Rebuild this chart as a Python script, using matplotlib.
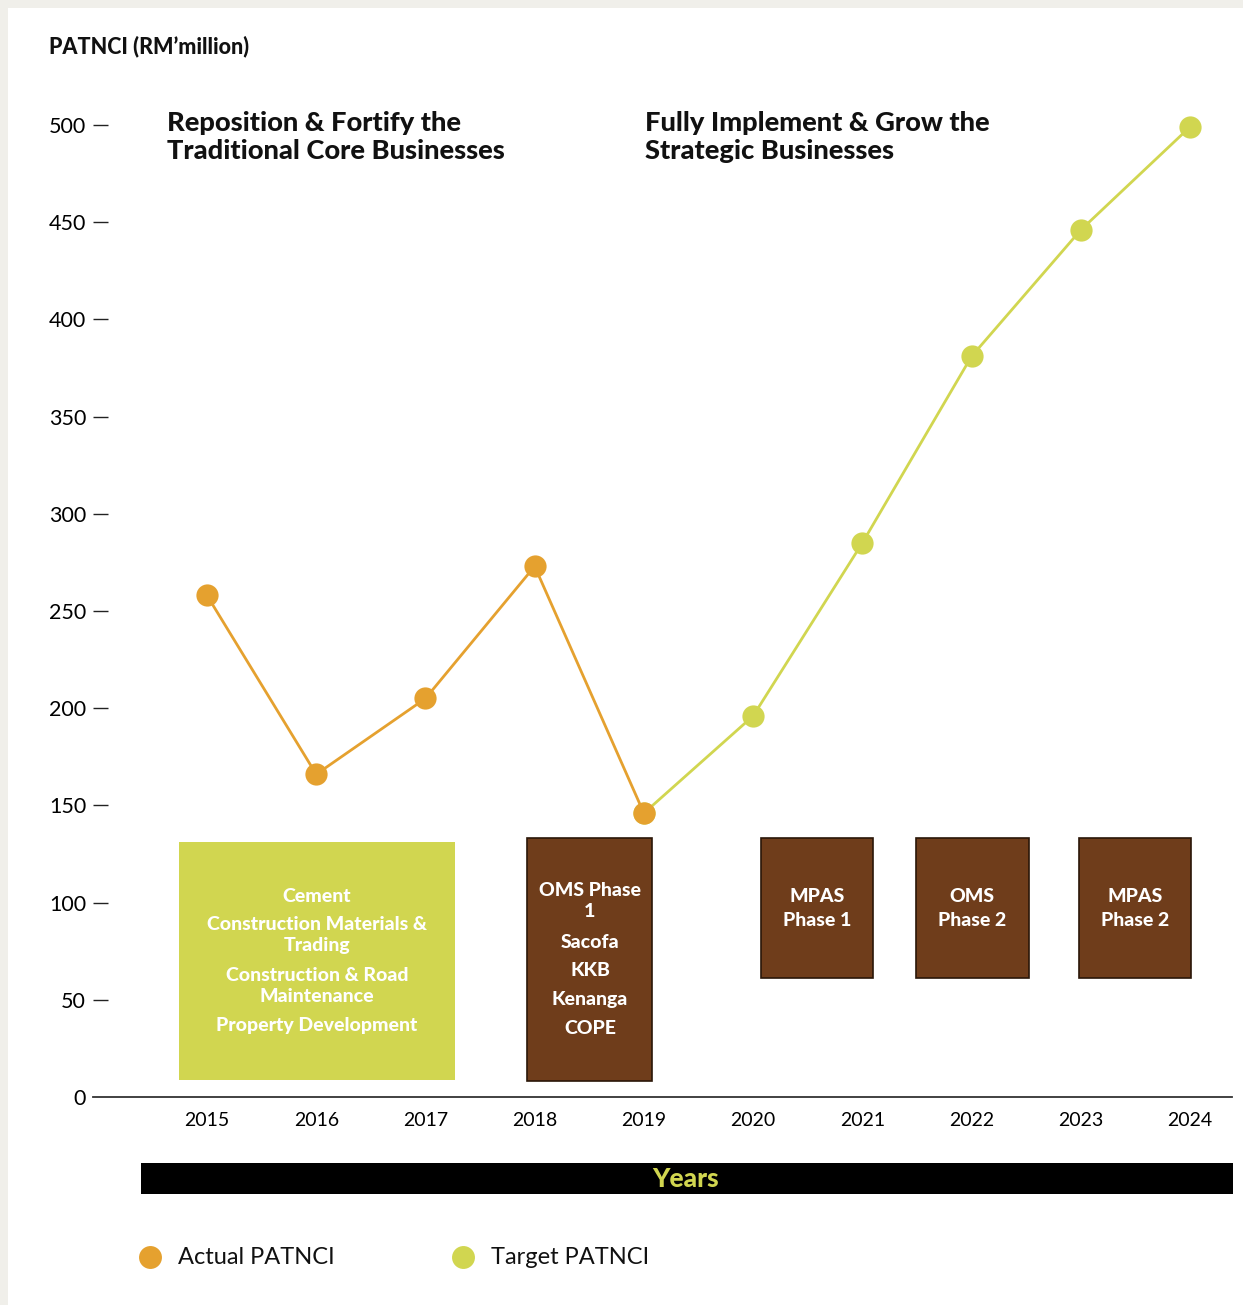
import matplotlib.pyplot as plt
from matplotlib.patches import Rectangle

W, H = 1243, 1305
plt.rcParams['font.family'] = ['Lato', 'DejaVu Sans']

# data
actual_years = [2015, 2016, 2017, 2018, 2019]
actual_vals = [258, 166, 205, 273, 146]
target_years = [2019, 2020, 2021, 2022, 2023, 2024]
target_vals = [146, 196, 285, 381, 446, 499]
y_ticks = [0, 50, 100, 150, 200, 250, 300, 350, 400, 450, 500]
x_years = list(range(2015, 2025))

ORANGE = '#e5a12f'
GREEN = '#d1d650'
BROWN = '#6f3d1b'


def fx(x):
    return x / W


def fy(y):
    return 1 - y / H


fig = plt.figure(figsize=(W / 100, H / 100), dpi=100)
fig.patch.set_facecolor('#f0efea')
fig.patches.append(Rectangle((fx(8), 0), 1 - fx(8), fy(8), transform=fig.transFigure,
                             facecolor='white', edgecolor='none', zorder=-10))

# axes: left edge 93px, right 1232px, y=0 at 1097px, 500 at 125px
ppu = (1097 - 125) / 500
ytop = 530
ax = fig.add_axes([fx(93), fy(1097), fx(1232) - fx(93), ytop * ppu / H])
ax.set_zorder(1)
ax.set_facecolor('none')
ax.set_ylim(0, ytop)
ppy = (1190 - 207) / 9
ax.set_xlim(2015 - (207 - 93) / ppy, 2015 + (1232 - 207) / ppy)

for s in ['top', 'right', 'left']:
    ax.spines[s].set_visible(False)
ax.spines['bottom'].set_linewidth(1.3)
ax.spines['bottom'].set_color('#333333')

ax.set_yticks(y_ticks)
ax.set_yticklabels([str(v) for v in y_ticks], fontsize=15.5)
ax.tick_params(axis='y', direction='in', length=11, width=1, pad=5, color='#222222')
ax.set_xticks(x_years)
ax.set_xticklabels([str(v) for v in x_years], fontsize=14)
ax.tick_params(axis='x', length=0, pad=11)
# the 0 tick has a label only
ax.yaxis.get_major_ticks()[0].tick1line.set_visible(False)

# boxes (data x range, data y range)
green_box = (2014.74, 2017.27, 9, 131)
brown_boxes = [
    (2017.93, 2019.07, 8, 133),
    (2020.07, 2021.10, 61, 133),
    (2021.49, 2022.53, 61, 133),
    (2022.98, 2024.01, 61, 133),
]
gx0, gx1, gy0, gy1 = green_box
ax.add_patch(Rectangle((gx0, gy0), gx1 - gx0, gy1 - gy0, facecolor=GREEN,
                       edgecolor='none', zorder=1))
for bx0, bx1, by0, by1 in brown_boxes:
    ax.add_patch(Rectangle((bx0, by0), bx1 - bx0, by1 - by0, facecolor=BROWN,
                           edgecolor='#2a1608', linewidth=1.2, zorder=1))

# lines
ax.plot(target_years, target_vals, color=GREEN, lw=2, marker='o', ms=16,
        mec='none', zorder=3, clip_on=False)
ax.plot(actual_years, actual_vals, color=ORANGE, lw=2, marker='o', ms=16,
        mec='none', zorder=4, clip_on=False)

# box texts (figure px)
box_txt = dict(color='white', fontsize=14, fontweight='black', ha='center', va='center',
               linespacing=1.25, zorder=5)
green_lines = [('Cement', 896), ('Construction Materials &\nTrading', 935),
               ('Construction & Road\nMaintenance', 986), ('Property Development', 1026)]
for t, yy in green_lines:
    fig.text(fx(317), fy(yy), t, **box_txt)
brown1_lines = [('OMS Phase\n1', 901), ('Sacofa', 942), ('KKB', 971),
                ('Kenanga', 1000), ('COPE', 1029)]
for t, yy in brown1_lines:
    fig.text(fx(590), fy(yy), t, **box_txt)
small_box_txt = dict(box_txt, linespacing=1.5)
for t, xx in [('MPAS\nPhase 1', 817), ('OMS\nPhase 2', 972), ('MPAS\nPhase 2', 1135)]:
    fig.text(fx(xx), fy(909), t, **small_box_txt)

# headings
fig.text(fx(49), fy(46), "PATNCI (RM\u2019million)", fontsize=15.5, fontweight='black',
         ha='left', va='center', color='#111111')
head = dict(fontsize=19.6, fontweight='black', ha='left', va='top', color='#111111',
            linespacing=1.2)
fig.text(fx(167), fy(111), "Reposition & Fortify the\nTraditional Core Businesses", **head)
fig.text(fx(645), fy(111), "Fully Implement & Grow the\nStrategic Businesses", **head)

# years bar
fig.patches.append(Rectangle((fx(141), fy(1194)), fx(1233) - fx(141), (1194 - 1163) / H,
                             transform=fig.transFigure, facecolor='black',
                             edgecolor='none', zorder=1))
fig.text(fx(686), fy(1179), 'Years', color=GREEN, fontsize=19, fontweight='black',
         ha='center', va='center', zorder=2)

# legend
for c, xx, lab in [(ORANGE, 150, 'Actual PATNCI'), (GREEN, 463, 'Target PATNCI')]:
    fig.lines.append(plt.Line2D([fx(xx)], [fy(1257)], transform=fig.transFigure,
                                marker='o', ms=16.5, color=c, mec='none', lw=0))
    fig.text(fx(xx + 28), fy(1257), lab, fontsize=17, ha='left', va='center',
             color='#111111')

fig.savefig('out.png', dpi=100, facecolor=fig.get_facecolor())
